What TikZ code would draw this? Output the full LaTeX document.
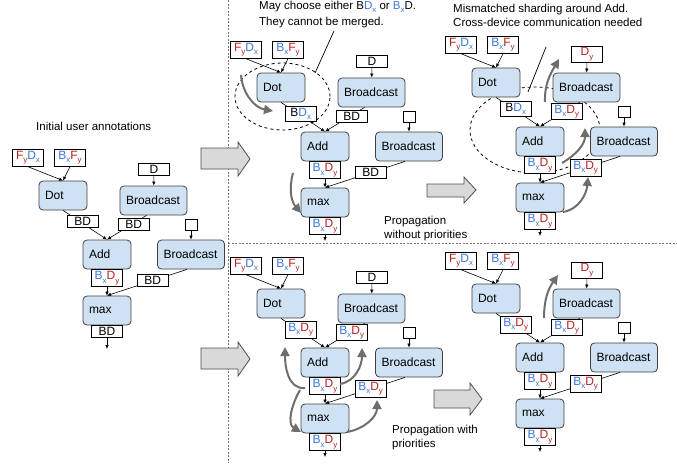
\documentclass[tikz,border=0pt]{standalone}
\usepackage{fontspec}
\setmainfont{Liberation Sans}
\usetikzlibrary{arrows.meta,positioning}

\definecolor{opfill}{HTML}{CFE2F3}
\definecolor{shx}{HTML}{3C78D8}
\definecolor{shy}{HTML}{B7211F}
\definecolor{hint}{HTML}{6E6E6E}
\definecolor{blockfill}{HTML}{D9D9D9}

% sharded dimension letters
\newcommand{\subtag}[1]{\raisebox{-3.2pt}{\fontsize{8}{8}\selectfont #1}}
\newcommand{\sx}[1]{\textcolor{shx}{#1\subtag{x}}}
\newcommand{\sy}[1]{\textcolor{shy}{#1\subtag{y}}}

\tikzset{%
  >={Latex[width=3.5pt,length=4pt]},
  % Specifications for style of nodes:
          op/.style = {rectangle, rounded corners=4pt, draw=black!75, fill=opfill,
                       line width=0.8pt, minimum height=29pt, inner xsep=6pt,
                       text width=36pt, align=left, font=\fontsize{12}{14}\selectfont},
       bcast/.style = {op, text width=55pt},
         lbl/.style = {rectangle, draw=black, fill=white, line width=0.7pt,
                       minimum width=31pt, minimum height=12pt, inner xsep=1pt,
                       inner ysep=1.8pt, font=\fontsize{12}{14}\selectfont},
    emptybox/.style = {rectangle, draw=black, fill=white, line width=0.7pt,
                       minimum width=12pt, minimum height=11pt, inner sep=0pt},
        edge/.style = {->, line width=0.6pt},
   hintarrow/.style = {-{Triangle[length=9pt,width=9pt]}, hint, line width=2pt},
        note/.style = {align=left, inner sep=0pt,
                       font=\fontsize{11.5}{13.5}\selectfont},
  blockarrow/.style = {fill=blockfill, draw=black!70, line width=0.8pt},
     sepline/.style = {black!55, line width=0.8pt, dash pattern=on 2pt off 1.5pt},
     pointer/.style = {line width=0.7pt},
}

% one copy of the graph, placed inside a shifted scope
\newcommand{\shardgraph}[6]{%
  \node (dot)   [op]    at (24,14.5)    {Dot};
  \node (add)   [op]    at (68,73.5)    {Add};
  \node (max)   [op]    at (68,129.5)   {max};
  \node (bca)   [bcast] at (114.5,19.5) {Broadcast};
  \node (bcb)   [bcast] at (152,73.5)   {Broadcast};
  \node (inl)   [lbl]   at (-11,-23)    {\sy{F}\sx{D}};
  \node (inr)   [lbl]   at (31,-23)     {\sx{B}\sy{F}};
  \node (bcain) [lbl, anchor=south]      at (115,-5) {#1};
  \node (bcbin) [emptybox, anchor=south] at (152,50) {};
  \coordinate (out) at (68,168);
  \draw[edge] (inl.south) -- (dot.north);
  \draw[edge] (inr.south) -- (dot.north);
  \draw[edge] (bcain) -- (bca);
  \draw[edge] (bcbin) -- (bcb);
  \draw[edge] (dot.south) -- node[lbl, pos=.38, xshift=3pt] (dotout) {#2} (add.north);
  \draw[edge] ([xshift=-7pt]bca.south) -- node[lbl, pos=.375, xshift=2pt] (bcaout) {#3} (add.north);
  \draw[edge] (add) -- node[lbl, pos=0, anchor=north] (addout) {#4} (max);
  \draw[edge] ([xshift=-4pt]bcb.south) -- node[lbl, pos=.43] (bcbout) {#5} (max.north);
  \draw[edge] (max) -- node[lbl, pos=0, anchor=north] (maxout) {#6} (out);
}

\begin{document}
\begin{tikzpicture}[x=1pt, y=-1pt]
\useasboundingbox (0,0) rectangle (677,463);

% panel separators
\draw[sepline] (228,0) -- (228,463);
\draw[sepline] (228,243) -- (677,243);

% dashed ellipses
\draw[dashed, line width=0.8pt] (282.5,96.5) ellipse [x radius=47.5pt, y radius=33.5pt];
\draw[dashed, line width=0.8pt] (535,130) ellipse [x radius=65pt, y radius=43pt];

% the five graphs
\begin{scope}[shift={(39,181)}, name prefix=a-]
  \shardgraph{D}{BD}{BD}{\sx{B}\sy{D}}{BD}{BD}
\end{scope}
\begin{scope}[shift={(257,73)}, name prefix=b-]
  \shardgraph{D}{B\sx{D}}{BD}{\sx{B}\sy{D}}{BD}{\sx{B}\sy{D}}
\end{scope}
\begin{scope}[shift={(472,68)}, name prefix=c-]
  \shardgraph{\sy{D}}{B\sx{D}}{\sx{B}\sy{D}}{\sx{B}\sy{D}}{\sx{B}\sy{D}}{\sx{B}\sy{D}}
\end{scope}
\begin{scope}[shift={(257,289)}, name prefix=d-]
  \shardgraph{D}{\sx{B}\sy{D}}{\sx{B}\sy{D}}{\sx{B}\sy{D}}{\sx{B}\sy{D}}{\sx{B}\sy{D}}
\end{scope}
\begin{scope}[shift={(472,284)}, name prefix=e-]
  \shardgraph{\sy{D}}{\sx{B}\sy{D}}{\sx{B}\sy{D}}{\sx{B}\sy{D}}{\sx{B}\sy{D}}{\sx{B}\sy{D}}
\end{scope}

% notes
\node (initnote) [note, anchor=west] at (36,126) {Initial user annotations};
\node (choosenote) [note, anchor=north west, font=\fontsize{11.5}{16}\selectfont]
  at (259,1) {May choose either B\sx{D} or \sx{B}D.\\They cannot be merged.};
\node (mismatchnote) [note, anchor=north west] at (453,4)
  {Mismatched sharding around Add.\\Cross-device communication needed};
\node (noprionote) [note, anchor=west] at (384,228.5) {Propagation\\without priorities};
\node (prionote) [note, anchor=west] at (392,437.5) {Propagation with\\priorities};

% pointers to the ellipses
\coordinate (choosetip) at (315,73);
\coordinate (mismatchtip) at (528,92);
\draw[pointer] (334,31) -- (choosetip);
\draw[pointer] (546,47) -- (mismatchtip);

% propagation hints
\draw[hintarrow] (241,75) to[out=-85, in=170] (273,111);
\draw[hintarrow] (293,173) to[out=-105, in=130] (301,213);
\draw[hintarrow] (545,102) to[out=92, in=-120] (559,59);
\draw[hintarrow] (562,163) to[out=30, in=-90] (585,128);
\draw[hintarrow] (563,212) to[out=10, in=-95] (588,177);
\draw[hintarrow] (305,388) to[out=185, in=-90] (285,347);
\draw[hintarrow] (340,384) to[out=10, in=-90] (362,348);
\draw[hintarrow] (300,390) to[out=-120, in=150] (301,432);
\draw[hintarrow] (347,432) to[out=10, in=-90] (377,400);
\draw[hintarrow] (544,318) to[out=90, in=-125] (558,275);

% step arrows
\draw[blockarrow] (201,148) -- (238,148) -- (238,142) -- (250,159) -- (238,176) -- (238,169) -- (201,169) -- cycle;
\draw[blockarrow] (201,348) -- (238,348) -- (238,342) -- (250,359) -- (238,376) -- (238,369) -- (201,369) -- cycle;
\draw[blockarrow] (427,184) -- (464,184) -- (464,177) -- (476,190) -- (464,203) -- (464,197) -- (427,197) -- cycle;
\draw[blockarrow] (434,390) -- (470,390) -- (470,383) -- (482,399) -- (470,415) -- (470,408) -- (434,408) -- cycle;
\end{tikzpicture}
\end{document}
